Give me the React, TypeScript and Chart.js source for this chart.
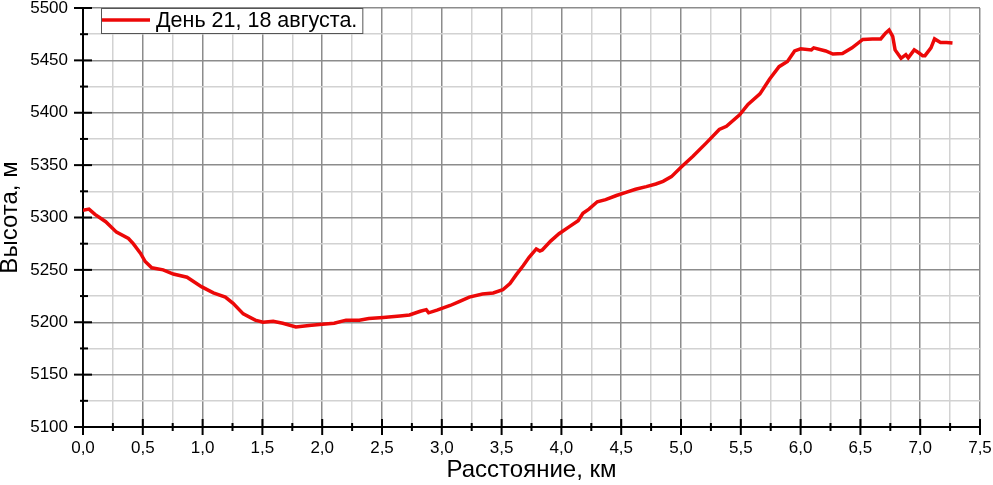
import React, { useEffect, useRef } from "react";
import { Chart, registerables } from "chart.js";

Chart.register(...registerables);

const seriesLabel = "День 21, 18 августа.";
const xTitle = "Расстояние, км";
const yTitle = "Высота, м";

const distKm = [
  0.0, 0.05, 0.1, 0.19, 0.28, 0.38, 0.42, 0.48, 0.52, 0.575, 0.67, 0.755, 0.87, 0.99,
  1.09, 1.19, 1.255, 1.34, 1.44, 1.505, 1.59, 1.67, 1.78, 1.89, 2.0, 2.1, 2.2, 2.31,
  2.39, 2.51, 2.65, 2.73, 2.82, 2.87, 2.89, 2.96, 3.07, 3.15, 3.23, 3.34, 3.43, 3.51,
  3.57, 3.62, 3.68, 3.73, 3.79, 3.82, 3.84, 3.91, 3.98, 4.07, 4.14, 4.18, 4.23, 4.3,
  4.37, 4.46, 4.54, 4.62, 4.71, 4.79, 4.85, 4.92, 5.0, 5.1, 5.21, 5.32, 5.38, 5.49,
  5.56, 5.66, 5.74, 5.82, 5.89, 5.95, 6.0, 6.09, 6.11, 6.21, 6.27, 6.35, 6.43, 6.52,
  6.6, 6.67, 6.71, 6.74, 6.77, 6.79, 6.84, 6.88, 6.9, 6.95, 6.99, 7.02, 7.04, 7.09,
  7.12, 7.17, 7.22, 7.27,
];

const elevM = [
  5307, 5308, 5303, 5296, 5286, 5280, 5275, 5266, 5258, 5252, 5250, 5246, 5243, 5234,
  5228, 5224, 5218, 5208, 5202, 5200, 5201, 5199, 5195.5, 5197, 5198, 5199, 5202, 5202,
  5203.5, 5204.5, 5206, 5207, 5210.5, 5212, 5209, 5211.5, 5216, 5220, 5224, 5227, 5228, 5231,
  5237, 5245, 5254, 5262, 5270, 5268, 5269, 5277.5, 5284.5, 5291.5, 5297, 5304, 5308, 5315,
  5317, 5321, 5324, 5327, 5329.5, 5332, 5334.5, 5339, 5348, 5358.5, 5371, 5384, 5387, 5398,
  5408, 5418, 5432, 5444, 5449, 5459, 5461, 5460, 5462, 5459, 5456, 5456.5, 5462, 5470,
  5470.5, 5470.5, 5476, 5479, 5473, 5460, 5452, 5455.5, 5452.5, 5460, 5457, 5454.5, 5454.5, 5462,
  5470.5, 5467, 5467, 5466.5,
];

const xMin = 0;
const xMax = 7.5;
const xMinorStep = 0.25;
const xMajorStep = 0.5;
const yMin = 5100;
const yMax = 5500;
const yMinorStep = 25;
const yMajorStep = 50;

const FONT = "'Liberation Sans', Arial, sans-serif";
const LINE_COLOR = "rgb(236, 8, 8)";

const isMajor = (v: number, step: number) => Math.abs(v / step - Math.round(v / step)) < 1e-6;

const axisTicksPlugin = {
  id: "axisTicks",
  afterDraw(chart: any) {
    const { ctx, chartArea, scales } = chart;
    const xs = scales.x;
    const ys = scales.y;
    ctx.save();
    ctx.strokeStyle = "#000";
    ctx.lineWidth = 2;
    xs.ticks.forEach((t: any) => {
      const px = xs.getPixelForValue(t.value);
      const major = isMajor(t.value, xMajorStep);
      ctx.beginPath();
      ctx.moveTo(px, chartArea.bottom - (major ? 8 : 4));
      ctx.lineTo(px, chartArea.bottom + (major ? 8 : 4));
      ctx.stroke();
    });
    ys.ticks.forEach((t: any) => {
      const py = ys.getPixelForValue(t.value);
      const major = isMajor(t.value, yMajorStep);
      ctx.beginPath();
      ctx.moveTo(chartArea.left - (major ? 9 : 3), py);
      ctx.lineTo(chartArea.left + (major ? 9 : 5), py);
      ctx.stroke();
    });
    ctx.restore();
  },
};

const legendBoxPlugin = {
  id: "legendBox",
  afterDraw(chart: any) {
    const { ctx, chartArea } = chart;
    const ds = chart.data.datasets[0];
    const left = chartArea.left + 18;
    const top = chartArea.top;
    ctx.save();
    ctx.font = `21.5px ${FONT}`;
    const textW = ctx.measureText(ds.label).width;
    const lineLen = 49;
    const w = lineLen + 6 + textW + 5;
    const h = 25;
    ctx.fillStyle = "#fff";
    ctx.fillRect(left, top, w, h);
    ctx.strokeStyle = "#555";
    ctx.lineWidth = 1;
    ctx.strokeRect(left + 0.5, top + 0.5, w, h);
    ctx.strokeStyle = ds.borderColor;
    ctx.lineWidth = 3.5;
    ctx.beginPath();
    ctx.moveTo(left + 1, top + 12);
    ctx.lineTo(left + lineLen, top + 12);
    ctx.stroke();
    ctx.fillStyle = "#000";
    ctx.textBaseline = "middle";
    ctx.textAlign = "left";
    ctx.fillText(ds.label, left + lineLen + 6, top + 13);
    ctx.restore();
  },
};

export default function App() {
  const canvasRef = useRef<HTMLCanvasElement | null>(null);

  useEffect(() => {
    document.body.style.margin = "0";
    const canvas = canvasRef.current;
    if (!canvas) return;
    const points = distKm.map((x, i) => ({ x, y: elevM[i] }));
    const chart = new Chart(canvas, {
      type: "line",
      data: {
        datasets: [
          {
            label: seriesLabel,
            data: points,
            borderColor: LINE_COLOR,
            backgroundColor: LINE_COLOR,
            borderWidth: 3.5,
            pointRadius: 0,
            tension: 0,
            fill: false,
          },
        ],
      },
      options: {
        animation: false,
        responsive: false,
        maintainAspectRatio: false,
        layout: { padding: { top: 8, right: 13, left: 0, bottom: 0 } },
        plugins: {
          legend: { display: false },
          tooltip: { enabled: false },
        },
        scales: {
          x: {
            type: "linear",
            min: xMin,
            max: xMax,
            afterFit: (scale: any) => {
              scale.height = 58;
              scale.paddingLeft = 0;
              scale.paddingRight = 0;
            },
            border: { display: true, color: "#000", width: 2 },
            grid: {
              drawTicks: false,
              lineWidth: 1.5,
              color: (c: any) =>
                c.tick && isMajor(c.tick.value, xMajorStep) ? "#8c8c8c" : "#d2d2d2",
            },
            ticks: {
              stepSize: xMinorStep,
              autoSkip: false,
              maxRotation: 0,
              padding: 11,
              color: "#000",
              font: { family: FONT, size: 17 },
              callback: (v: any) =>
                isMajor(Number(v), xMajorStep) ? Number(v).toFixed(1).replace(".", ",") : "",
            },
            title: {
              display: true,
              text: xTitle,
              color: "#000",
              font: { family: FONT, size: 24, lineHeight: 1.2 },
              padding: { top: 0, bottom: 0 },
            },
          },
          y: {
            type: "linear",
            min: yMin,
            max: yMax,
            afterFit: (scale: any) => {
              scale.width = 83;
              scale.paddingTop = 0;
              scale.paddingBottom = 0;
            },
            border: { display: true, color: "#000", width: 2 },
            grid: {
              drawTicks: false,
              lineWidth: 1.5,
              color: (c: any) =>
                c.tick && isMajor(c.tick.value, yMajorStep) ? "#8c8c8c" : "#d2d2d2",
            },
            ticks: {
              stepSize: yMinorStep,
              autoSkip: false,
              padding: 15,
              color: "#000",
              font: { family: FONT, size: 17 },
              callback: (v: any) => (isMajor(Number(v), yMajorStep) ? String(v) : ""),
            },
            title: {
              display: true,
              text: yTitle,
              color: "#000",
              font: { family: FONT, size: 24, lineHeight: 0.9 },
              padding: { top: 0, bottom: 0 },
            },
          },
        },
      },
      plugins: [axisTicksPlugin, legendBoxPlugin],
    });
    return () => chart.destroy();
  }, []);

  return (
    <div style={{ position: "fixed", left: 0, top: 0, width: 993, height: 485, background: "#fff" }}>
      <canvas ref={canvasRef} width={993} height={485} style={{ width: 993, height: 485 }} />
    </div>
  );
}
